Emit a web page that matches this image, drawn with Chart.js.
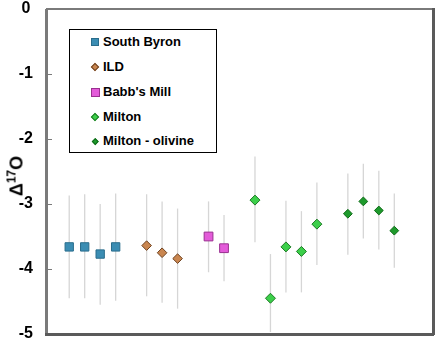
<!DOCTYPE html>
<html><head><meta charset="utf-8">
<script src="https://cdn.jsdelivr.net/npm/chart.js@4/dist/chart.umd.min.js"></script>
<style>
html,body{margin:0;padding:0;background:#fff;}
#wrap{position:relative;width:438px;height:343px;overflow:hidden;}
#c{position:absolute;left:0;top:0;}
#legend{position:absolute;left:69px;top:29px;width:146px;height:122px;border:1px solid #000;background:#fff;font:bold 13px "Liberation Sans",Arial,sans-serif;color:#000;}
.item{position:absolute;left:0;height:16px;line-height:16px;white-space:nowrap;}
.mk{position:absolute;box-sizing:border-box;}
.txt{position:absolute;left:33px;top:0;}
#ytitle{position:absolute;left:17px;top:176px;transform:translate(-50%,-50%) rotate(-90deg);font:bold 18px "Liberation Sans",Arial,sans-serif;color:#000;white-space:nowrap;}
#ytitle sup{font-size:12px;vertical-align:7px;line-height:0;}
</style></head>
<body><div id="wrap"><canvas id="c" width="438" height="343"></canvas><div id="legend"></div><div id="ytitle">&Delta;<sup>17</sup>O</div></div>
<script>
// ---- data ----
const seriesNames = ["South Byron", "ILD", "Babb's Mill", "Milton", "Milton - olivine"];
const yTicks = [0, -1, -2, -3, -4, -5];

const sbX = [1.5, 2.5, 3.5, 4.5];
const sbY = [-3.66, -3.66, -3.77, -3.66];
const sbLo = [-4.45, -4.45, -4.55, -4.49];
const sbHi = [-2.87, -2.85, -3.00, -2.84];

const ildX = [6.5, 7.5, 8.5];
const ildY = [-3.64, -3.75, -3.84];
const ildLo = [-4.42, -4.52, -4.61];
const ildHi = [-2.85, -2.96, -3.07];

const babbX = [10.5, 11.5];
const babbY = [-3.50, -3.68];
const babbLo = [-4.05, -4.19];
const babbHi = [-2.96, -3.17];

const miltonX = [13.5, 14.5, 15.5, 16.5, 17.5];
const miltonY = [-2.94, -4.45, -3.66, -3.73, -3.31];
const miltonLo = [-3.59, -4.97, -4.36, -4.36, -3.94];
const miltonHi = [-2.27, -3.77, -2.95, -3.11, -2.67];

const olivX = [19.5, 20.5, 21.5, 22.5];
const olivY = [-3.15, -2.96, -3.10, -3.41];
const olivLo = [-3.78, -3.53, -3.70, -3.98];
const olivHi = [-2.53, -2.38, -2.49, -2.84];

// ---- build ----
function pts(xs, ys, lo, hi) { return xs.map((x, i) => ({x: x, y: ys[i], lo: lo[i], hi: hi[i]})); }
const styles = [
  {fill: '#3b8db3', stroke: '#2a6d8c', shape: 'rect', r: 5.9, lg: 8, lgShape: 'sq'},
  {fill: '#c98650', stroke: '#6e4220', shape: 'rectRot', r: 4.8, lg: 6, lgShape: 'dia'},
  {fill: '#e35bd9', stroke: '#9a3090', shape: 'rect', r: 6.2, lg: 9, lgShape: 'sq'},
  {fill: '#3ccf4a', stroke: '#1d7a25', shape: 'rectRot', r: 5.0, lg: 6, lgShape: 'dia'},
  {fill: '#1e9a2c', stroke: '#0f6a18', shape: 'rectRot', r: 4.4, lg: 4.5, lgShape: 'dia'}
];
const allData = [pts(sbX, sbY, sbLo, sbHi), pts(ildX, ildY, ildLo, ildHi), pts(babbX, babbY, babbLo, babbHi),
  pts(miltonX, miltonY, miltonLo, miltonHi), pts(olivX, olivY, olivLo, olivHi)];

const datasets = seriesNames.map((n, i) => ({
  label: n, data: allData[i], pointStyle: styles[i].shape, pointRadius: styles[i].r,
  backgroundColor: styles[i].fill, borderColor: styles[i].stroke, borderWidth: 1, showLine: false
}));

const errorBars = {
  id: 'errorBars',
  beforeDatasetsDraw(chart) {
    const ctx = chart.ctx, xs = chart.scales.x, ys = chart.scales.y, a = chart.chartArea;
    ctx.save();
    ctx.strokeStyle = '#d6d6d6'; ctx.lineWidth = 1.3;
    chart.data.datasets.forEach(ds => ds.data.forEach(p => {
      const px = xs.getPixelForValue(p.x);
      const y1 = Math.max(ys.getPixelForValue(p.hi), a.top), y2 = Math.min(ys.getPixelForValue(p.lo), a.bottom);
      ctx.beginPath(); ctx.moveTo(px, y1); ctx.lineTo(px, y2); ctx.stroke();
    }));
    ctx.restore();
  },
  afterDraw(chart) {
    const ctx = chart.ctx, a = chart.chartArea, ys = chart.scales.y;
    ctx.save();
    ctx.fillStyle = '#7a7a7a';
    ctx.fillRect(a.left, a.top - 1, a.right - a.left, 2);            // top
    ctx.fillRect(a.left - 1, a.top, 3, a.bottom - a.top);        // left
    yTicks.forEach(v => { const py = Math.round(ys.getPixelForValue(v)); ctx.fillRect(a.left, py, 6, 1); });
    ctx.fillStyle = '#5a5a5a';
    ctx.fillRect(a.left - 1, a.bottom - 1, a.right - a.left + 2, 3); // bottom
    ctx.fillRect(a.right - 1, a.top - 1, 3, a.bottom - a.top + 2);   // right
    ctx.restore();
  }
};

new Chart(document.getElementById('c'), {
  type: 'scatter',
  data: {datasets: datasets},
  options: {
    responsive: false, animation: false, devicePixelRatio: 1,
    layout: {autoPadding: false, padding: {top: 9, bottom: 9, right: 5, left: 0}},
    plugins: {legend: {display: false}, tooltip: {enabled: false}},
    scales: {
      x: {type: 'linear', min: 0, max: 25, display: false},
      y: {type: 'linear', position: 'left', min: -5, max: 0,
        afterFit(s) { s.width = 46; s.paddingTop = 0; s.paddingBottom = 0; },
        afterBuildTicks(s) { s.ticks = yTicks.map(v => ({value: v})); },
        grid: {display: false, drawTicks: false},
        border: {display: false},
        ticks: {color: '#000', font: {family: '"Liberation Sans", Arial, sans-serif', size: 16, weight: 'bold'},
          crossAlign: 'center', padding: 13}
      }
    }
  },
  plugins: [errorBars]
});

// HTML legend generated from the datasets
const lg = document.getElementById('legend');
const rowY = [12, 37, 62, 87, 111];
datasets.forEach((ds, i) => {
  const it = document.createElement('div'); it.className = 'item'; it.style.top = (rowY[i] - 8) + 'px';
  const mk = document.createElement('span'); mk.className = 'mk';
  const s = styles[i].lg;
  mk.style.width = s + 'px'; mk.style.height = s + 'px';
  mk.style.left = (25 - s / 2) + 'px'; mk.style.top = (8 - s / 2) + 'px';
  mk.style.background = styles[i].fill; mk.style.border = '1px solid ' + styles[i].stroke;
  if (styles[i].lgShape === 'dia') mk.style.transform = 'rotate(45deg)';
  const tx = document.createElement('span'); tx.className = 'txt'; tx.textContent = ds.label;
  it.appendChild(mk); it.appendChild(tx); lg.appendChild(it);
});
</script></body></html>
